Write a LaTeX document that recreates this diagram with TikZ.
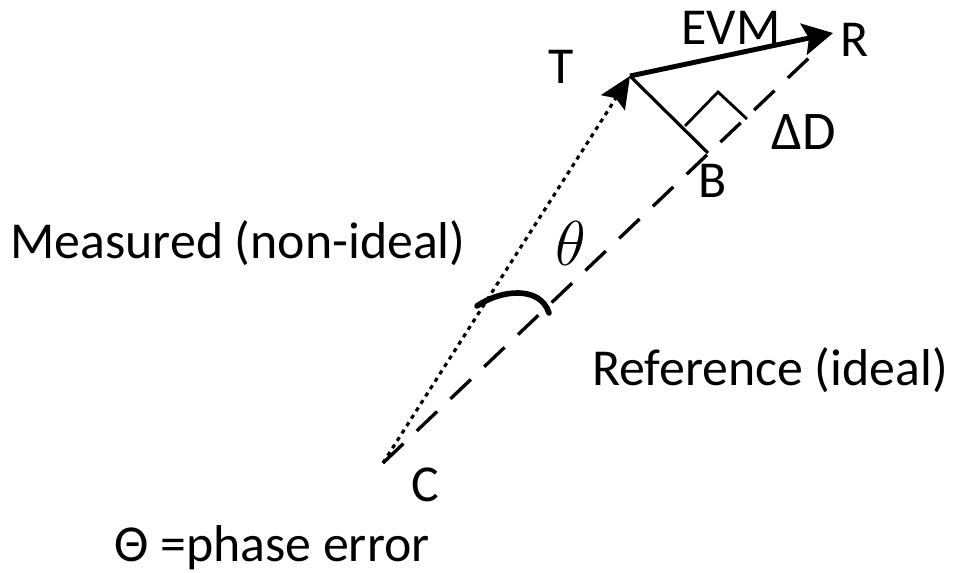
\documentclass[tikz,border=0pt]{standalone}
\usepackage{fontspec}
\setmainfont{Carlito}
\usepackage{tikz}
\usetikzlibrary{arrows.meta}

\begin{document}
\begin{tikzpicture}[x=0.02cm,y=-0.02cm,every node/.style={font=\fontsize{29.5}{34}\selectfont,inner sep=0pt}]
\useasboundingbox (0,0) rectangle (953,573);
\coordinate (c) at (383,463);
\coordinate (t) at (630,76);
\coordinate (r) at (833,33);
\coordinate (b) at (708,153);
\coordinate (cr) at (812,55);
\draw[line width=1.9pt,dash pattern=on 16pt off 10.5pt] (c) -- (cr);
\draw[line width=1.8pt,dash pattern=on 2.4pt off 2.6pt,-{Stealth[length=18pt,width=16pt,inset=3pt]}] (c) -- (t);
\draw[line width=2.8pt,-{Stealth[length=17pt,width=18pt,inset=3pt]}] (t) -- (r);
\draw[line width=1.8pt] (t) -- (b);
\draw[line width=1.6pt] (685,126) -- (718,92) -- (747,119);
\draw[line width=3.2pt,line cap=round] (477,306) .. controls (500,290) and (540,285) .. (549,313);
\node (tl) at (561,67) {T};
\node (rl) at (855,40) {R};
\node (evm) at (731,28) {EVM};
\node (dd) at (804,132) {\fontsize{31}{34}\selectfont ΔD};
\node (bl) at (713,181) {B};
\node[scale=1.45] (th) at (571,243) {$\theta$};
\node (meas) at (238,243) {Measured (non-ideal)};
\node (ref) at (770,370) {Reference (ideal)};
\node (cl) at (425,485) {C};
\node (pe) at (272,548) {Θ =phase error};
\end{tikzpicture}
\end{document}
